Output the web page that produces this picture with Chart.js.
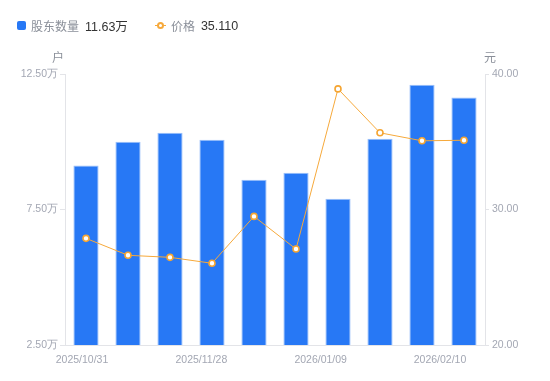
<!DOCTYPE html>
<html>
<head>
<meta charset="utf-8">
<script src="https://cdn.jsdelivr.net/npm/chart.js@4"></script>
<style>
  html, body { margin: 0; padding: 0; background: #fff; }
  body { width: 550px; height: 381px; position: relative; overflow: hidden; font-family: "Liberation Sans", "Noto Sans CJK SC", sans-serif; }
  #wrap { position: absolute; left: 0; top: 0; width: 550px; height: 381px; }
  .legend { position: absolute; top: 16px; left: 17px; display: flex; align-items: center; font-size: 12px; z-index: 2; }
  .legend .item { display: flex; align-items: center; margin-right: 27px; }
  .legend .lbl { color: #8a8f99; margin-right: 6px; }
  .legend .val { color: #333; font-size: 12.5px; }
  .sq { width: 9px; height: 9px; background: #2778f5; border-radius: 2px; margin-right: 5px; }
  .ln { position: relative; width: 11px; height: 9px; margin-right: 5px; }
  .ln:before { content: ''; position: absolute; left: 0; right: 0; top: 4px; height: 1px; background: #f6a93b; }
  .ln:after { content: ''; position: absolute; left: 2px; top: 1px; width: 3px; height: 3px; border: 2px solid #f6a93b; border-radius: 50%; background: #fff; }
</style>
</head>
<body>
<div class="legend">
  <div class="item"><div class="sq"></div><span class="lbl">股东数量</span><span class="val">11.63万</span></div>
  <div class="item"><div class="ln"></div><span class="lbl">价格</span><span class="val">35.110</span></div>
</div>
<div id="wrap"><canvas id="c" width="550" height="381"></canvas></div>
<script>
// 股东户数（万户）和价格（元）
const dates = ['2025/10/31', '2025/11/07', '2025/11/14', '2025/11/28', '2025/12/10', '2025/12/19', '2026/01/09', '2026/01/20', '2026/01/30', '2026/02/10'];
const holders = [9.12, 10.0, 10.33, 10.07, 8.60, 8.86, 7.90, 10.11, 12.10, 11.63];
const prices = [27.87, 26.62, 26.47, 26.03, 29.49, 27.08, 38.90, 35.66, 35.07, 35.11];
const xTickLabels = ['2025/10/31', '2025/11/28', '2026/01/09', '2026/02/10'];

const gray = '#a3a7b3';
const lineGray = '#e3e4e8';

const unitTitles = {
  id: 'unitTitles',
  afterDraw(chart) {
    const { ctx, chartArea } = chart;
    ctx.save();
    ctx.font = '12px "Noto Sans CJK SC", sans-serif';
    ctx.fillStyle = '#8a8f99';
    ctx.textBaseline = 'middle';
    ctx.textAlign = 'center';
    ctx.fillText('户', chartArea.left - 7, chartArea.top - 17);
    ctx.fillText('元', chartArea.right + 5, chartArea.top - 17);
    ctx.restore();
  }
};

new Chart(document.getElementById('c'), {
  data: {
    labels: dates,
    datasets: [
      {
        type: 'line',
        label: '价格',
        data: prices,
        yAxisID: 'y1',
        borderColor: '#f6a93b',
        borderWidth: 1,
        pointRadius: 3,
        pointBorderWidth: 1.6,
        pointBackgroundColor: '#fff',
        pointBorderColor: '#f5a532',
        tension: 0,
        order: 0,
      },
      {
        type: 'bar',
        label: '股东数量',
        data: holders,
        yAxisID: 'y',
        backgroundColor: '#2778f5',
        borderColor: '#9cc0f9',
        borderWidth: 1,
        barPercentage: 0.6,
        categoryPercentage: 1,
        order: 1,
      },
    ],
  },
  options: {
    responsive: false,
    animation: false,
    layout: { padding: { top: 74, left: 0, right: 0, bottom: 0 } },
    plugins: { legend: { display: false }, tooltip: { enabled: false } },
    scales: {
      x: { display: false },
      x2: {
        type: 'linear',
        position: 'bottom',
        min: -0.1425,
        max: 3.377,
        afterBuildTicks: s => { s.ticks = xTickLabels.map((_, i) => ({ value: i })); },
        afterFit: s => { s.height = 36; },
        grid: { display: false, tickLength: 0 },
        border: { display: true, color: lineGray },
        ticks: {
          color: gray,
          font: { size: 10.5 },
          padding: 9,
          maxRotation: 0,
          autoSkip: false,
          callback: v => xTickLabels[v] || '',
        },
      },
      y: {
        position: 'left',
        min: 2.5,
        max: 12.5,
        afterBuildTicks: s => { s.ticks = [2.5, 7.5, 12.5].map(v => ({ value: v })); },
        afterFit: s => { s.width = 65; },
        grid: { drawOnChartArea: false, drawTicks: true, tickLength: 5, color: lineGray },
        border: { display: true, color: lineGray },
        ticks: { color: gray, font: { size: 10.5 }, padding: 2, callback: v => v.toFixed(2) + '万' },
      },
      y1: {
        position: 'right',
        min: 20,
        max: 40,
        afterBuildTicks: s => { s.ticks = [20, 30, 40].map(v => ({ value: v })); },
        afterFit: s => { s.width = 65; },
        grid: { drawOnChartArea: false, drawTicks: true, tickLength: 4, color: lineGray },
        border: { display: true, color: lineGray },
        ticks: { color: gray, font: { size: 10.5 }, padding: 3, callback: v => v.toFixed(2) },
      },
    },
  },
  plugins: [unitTitles],
});
</script>
</body>
</html>
